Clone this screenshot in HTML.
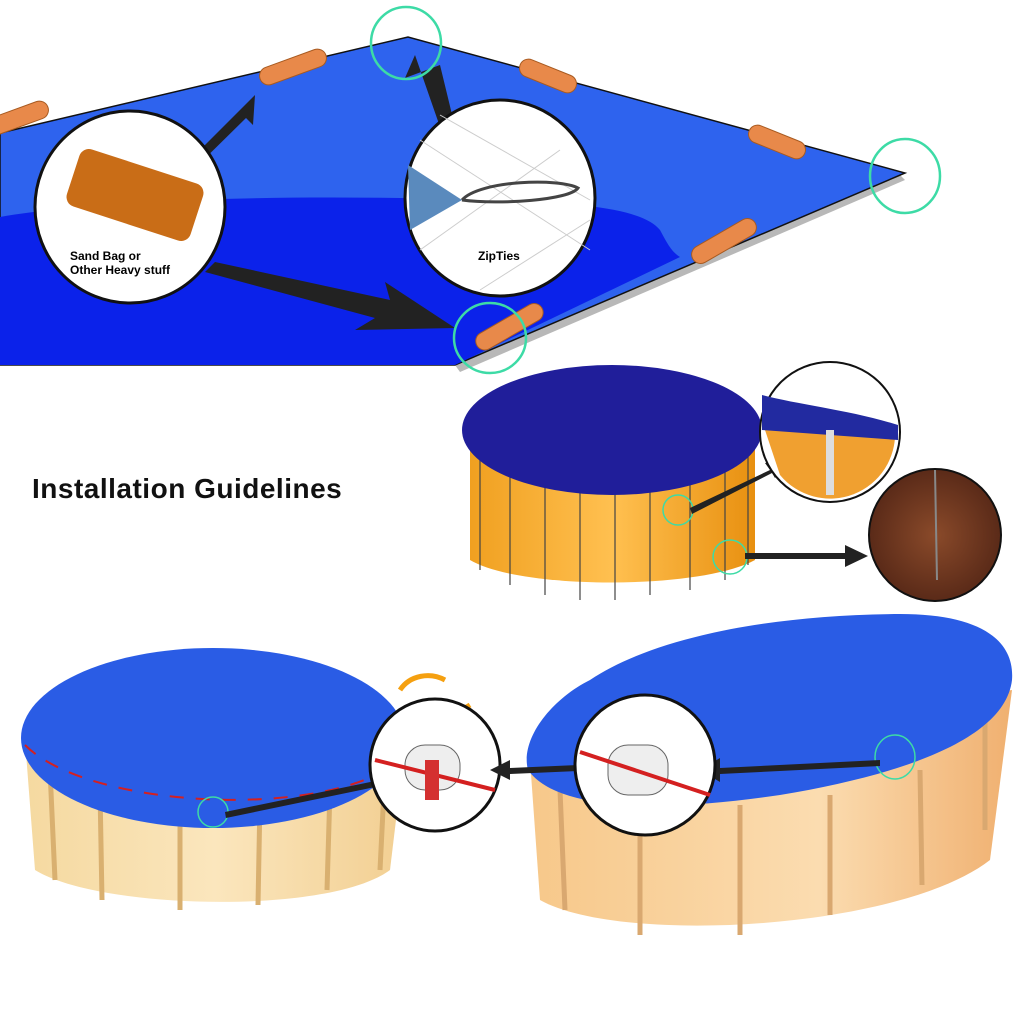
<!DOCTYPE html>
<html><head><meta charset="utf-8"><style>
html,body{margin:0;padding:0;background:#fff;width:1024px;height:1024px;overflow:hidden}
svg{display:block}
</style></head><body>
<svg width="1024" height="1024" viewBox="0 0 1024 1024" xmlns="http://www.w3.org/2000/svg">
<defs>
<linearGradient id="wall1" x1="0" x2="1"><stop offset="0" stop-color="#f5d9a0"/><stop offset="0.5" stop-color="#fbe6bd"/><stop offset="1" stop-color="#f2cf92"/></linearGradient>
<linearGradient id="wall2" x1="0" x2="1"><stop offset="0" stop-color="#f7c88a"/><stop offset="0.6" stop-color="#fbdcb0"/><stop offset="1" stop-color="#f0b070"/></linearGradient>
<linearGradient id="wall3" x1="0" x2="1"><stop offset="0" stop-color="#f0a020"/><stop offset="0.5" stop-color="#ffc050"/><stop offset="1" stop-color="#e89010"/></linearGradient>
<radialGradient id="brown"><stop offset="0" stop-color="#8a4a2a"/><stop offset="1" stop-color="#5a2a18"/></radialGradient>
</defs>
<polygon points="460,372 905,180 900,175 455,365" fill="#b8b8b8"/>
<polygon points="0,133 408,37 905,173 455,365 0,365" fill="#2e63ee" stroke="#111" stroke-width="1.5"/>
<path d="M0,217 C100,200 250,196 400,198 C560,200 640,205 660,230 C668,245 672,252 680,257 L455,365 L0,365 Z" fill="#0b22ea"/>
<g fill="#e8894a" stroke="#a85a20" stroke-width="1">
<rect x="258" y="58" width="70" height="18" rx="9" transform="rotate(-20 293 67)"/>
<rect x="518" y="67" width="60" height="18" rx="9" transform="rotate(22 548 76)"/>
<rect x="747" y="133" width="60" height="18" rx="9" transform="rotate(22 777 142)"/>
<rect x="688" y="232" width="72" height="18" rx="9" transform="rotate(-30 724 241)"/>
<rect x="472" y="318" width="75" height="18" rx="9" transform="rotate(-30 509 327)"/>
<rect x="-20" y="110" width="70" height="18" rx="9" transform="rotate(-20 15 119)"/>
</g>
<polygon points="175,175 240,110 255,95 253,125 246,118 182,181" fill="#222"/>
<polygon points="455,170 415,55 405,78 440,65 465,168" fill="#222"/>
<polygon points="215,262 390,300 385,282 455,328 355,330 375,318 205,272" fill="#222"/>
<ellipse cx="130" cy="207" rx="95" ry="96" fill="#fff" stroke="#111" stroke-width="3"/>
<rect x="70" y="165" width="130" height="60" rx="10" fill="#c96d17" transform="rotate(18 135 195)"/>
<text x="70" y="260" font-family="Liberation Sans,sans-serif" font-weight="bold" font-size="12">Sand Bag or</text>
<text x="70" y="274" font-family="Liberation Sans,sans-serif" font-weight="bold" font-size="12">Other Heavy stuff</text>
<ellipse cx="500" cy="198" rx="95" ry="98" fill="#fff" stroke="#111" stroke-width="3"/>
<g stroke="#ccc" stroke-width="1"><line x1="420" y1="140" x2="590" y2="250"/><line x1="440" y1="115" x2="590" y2="200"/><line x1="420" y1="250" x2="560" y2="150"/><line x1="480" y1="290" x2="590" y2="220"/></g>
<polygon points="408,165 462,200 410,230" fill="#5a8abd"/>
<path d="M462,200 C480,180 560,178 578,188 C570,200 500,205 462,200" fill="none" stroke="#444" stroke-width="3"/>
<text x="478" y="260" font-family="Liberation Sans,sans-serif" font-weight="bold" font-size="12">ZipTies</text>
<g fill="none" stroke="#3ddba6" stroke-width="2.5">
<ellipse cx="406" cy="43" rx="35" ry="36"/>
<ellipse cx="905" cy="176" rx="35" ry="37"/>
<ellipse cx="490" cy="338" rx="36" ry="35"/>
</g>
<text x="32" y="498" font-family="Liberation Sans,sans-serif" font-weight="bold" font-size="28" letter-spacing="0.5" fill="#111">Installation Guidelines</text>
<path d="M470,430 L470,560 C520,590 700,590 755,560 L755,430 Z" fill="url(#wall3)"/>
<g stroke="#444" stroke-width="1.2">
<line x1="480" y1="440" x2="480" y2="570"/><line x1="510" y1="450" x2="510" y2="585"/><line x1="545" y1="455" x2="545" y2="595"/><line x1="580" y1="460" x2="580" y2="600"/><line x1="615" y1="460" x2="615" y2="600"/><line x1="650" y1="458" x2="650" y2="595"/><line x1="690" y1="455" x2="690" y2="590"/><line x1="725" y1="450" x2="725" y2="580"/><line x1="748" y1="440" x2="748" y2="565"/>
</g>
<ellipse cx="612" cy="430" rx="150" ry="65" fill="#201e9a"/>
<ellipse cx="678" cy="510" rx="15" ry="15" fill="none" stroke="#3ddba6" stroke-width="1.5"/>
<ellipse cx="730" cy="557" rx="17" ry="17" fill="none" stroke="#3ddba6" stroke-width="1.5"/>
<polygon points="690,508 770,470 765,463 785,460 775,478 772,473 692,514" fill="#222"/>
<polygon points="745,553 845,553 845,545 868,556 845,567 845,559 745,559" fill="#222"/>
<ellipse cx="830" cy="432" rx="70" ry="70" fill="#fff" stroke="#111" stroke-width="2"/>
<path d="M765,430 L895,430 A65,65 0 0 1 780,475 Z" fill="#f0a030"/>
<path d="M762,395 C800,405 850,410 898,425 L898,440 L762,430 Z" fill="#222aa0"/>
<rect x="826" y="430" width="8" height="65" fill="#ddd"/>
<ellipse cx="935" cy="535" rx="66" ry="66" fill="url(#brown)" stroke="#111" stroke-width="2"/>
<line x1="935" y1="470" x2="937" y2="580" stroke="#888" stroke-width="2"/>
<path d="M25,740 L35,870 C100,910 330,915 390,870 L405,745 Z" fill="url(#wall1)"/>
<g stroke="#d9b070" stroke-width="5">
<line x1="50" y1="770" x2="55" y2="880"/><line x1="100" y1="790" x2="102" y2="900"/><line x1="180" y1="800" x2="180" y2="910"/><line x1="260" y1="800" x2="258" y2="905"/><line x1="330" y1="790" x2="327" y2="890"/><line x1="385" y1="770" x2="380" y2="870"/>
</g>
<ellipse cx="213" cy="738" rx="192" ry="90" fill="#2a5ce5"/>
<path d="M25,745 C90,810 330,820 400,760" fill="none" stroke="#d42020" stroke-width="2" stroke-dasharray="14 12"/>
<ellipse cx="213" cy="812" rx="15" ry="15" fill="none" stroke="#3ddba6" stroke-width="1.5"/>
<polygon points="225,812 380,780 378,772 400,780 382,792 380,786 226,818" fill="#222"/>
<path d="M400,690 C410,675 430,672 445,680" fill="none" stroke="#f5a010" stroke-width="5"/>
<path d="M470,705 C455,715 440,715 425,710" fill="none" stroke="#f5a010" stroke-width="5"/>
<ellipse cx="435" cy="765" rx="65" ry="66" fill="#fff" stroke="#111" stroke-width="3"/>
<rect x="405" y="745" width="55" height="45" rx="20" fill="#eee" stroke="#666"/>
<line x1="375" y1="760" x2="495" y2="790" stroke="#d42020" stroke-width="4"/>
<rect x="425" y="760" width="14" height="40" fill="#d43030"/>
<path d="M530,760 L540,900 C620,945 900,930 990,860 L1012,690 Z" fill="url(#wall2)"/>
<g stroke="#d9a870" stroke-width="5">
<line x1="560" y1="790" x2="565" y2="910"/><line x1="640" y1="800" x2="640" y2="935"/><line x1="740" y1="805" x2="740" y2="935"/><line x1="830" y1="795" x2="830" y2="915"/><line x1="920" y1="770" x2="922" y2="885"/><line x1="985" y1="720" x2="985" y2="830"/>
</g>
<path d="M590,680 C650,640 760,615 900,614 C980,614 1015,640 1012,680 C1005,740 900,775 780,795 C680,810 560,815 528,770 C520,740 550,700 590,680 Z" fill="#2a5ce5"/>
<ellipse cx="895" cy="757" rx="20" ry="22" fill="none" stroke="#3ddba6" stroke-width="1.5"/>
<polygon points="880,760 720,768 720,758 700,770 720,782 720,774 880,766" fill="#222"/>
<polygon points="578,765 510,768 510,760 490,770 510,780 510,774 578,771" fill="#222"/>
<ellipse cx="645" cy="765" rx="70" ry="70" fill="#fff" stroke="#111" stroke-width="3"/>
<rect x="608" y="745" width="60" height="50" rx="20" fill="#eee" stroke="#666"/>
<line x1="580" y1="752" x2="710" y2="795" stroke="#d42020" stroke-width="4"/>
</svg>
</body></html>
